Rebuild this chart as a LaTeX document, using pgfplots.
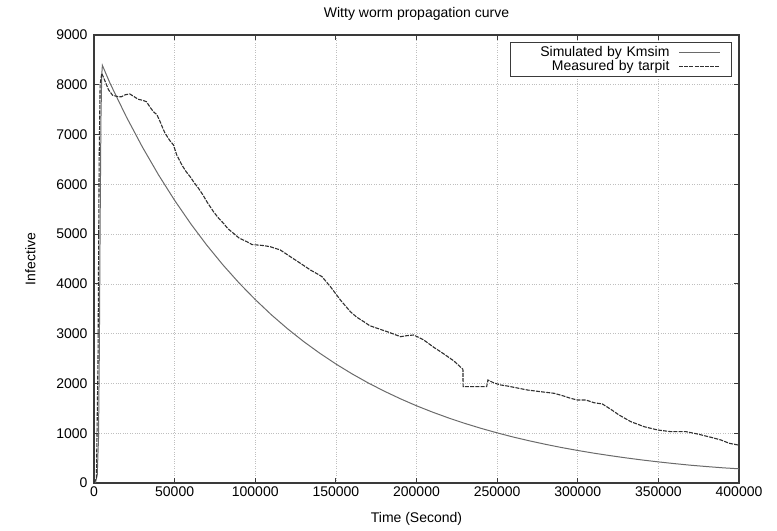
\documentclass[border=0pt]{standalone}
\usepackage{pgfplots}
\pgfplotsset{compat=1.18}
\usepackage{fontspec}
\setmainfont{Liberation Sans}
\definecolor{simc}{HTML}{6A6A6A}
\definecolor{meac}{HTML}{303030}
\definecolor{axc}{HTML}{3A3A3A}
\begin{document}
\begin{tikzpicture}[font=\fontsize{14bp}{16bp}\selectfont]
\begin{axis}[
  name=ax,
  scale only axis,
  width=645bp, height=448bp,
  xmin=0, xmax=400000, ymin=0, ymax=9000,
  xtick={0,50000,...,400000},
  ytick={0,1000,...,9000},
  scaled x ticks=false,
  /pgf/number format/.cd, fixed, 1000 sep={}, assume math mode=true, /pgfplots/.cd,
  tick align=inside,
  major tick length=5bp,
  tick style={axc, line width=0.9bp},
  axis line style={axc, line width=1.4bp},
  grid=major,
  major grid style={gray!50, dotted, line width=0.7bp},
  title={Witty worm propagation curve},
  title style={yshift=5bp},
  xlabel={Time (Second)},
  ylabel={Infective},
  xlabel style={yshift=-9bp},
  ylabel style={yshift=14bp},
  yticklabel style={xshift=-3bp},
  legend plot pos=right,
  legend image code/.code={\path (0bp,0bp) (61bp,0bp); \draw[#1] (9bp,0bp) -- (50bp,0bp);},
  legend style={at={(1,1)}, anchor=north east, xshift=-7bp, yshift=-7bp,
    draw=axc, line width=0.9bp, fill=white, inner xsep=0bp, inner ysep=2bp, row sep=-1.5bp,
    font=\fontsize{14bp}{16bp}\selectfont},
  legend cell align=right,
  legend style={nodes={text width=159bp, align=right, inner xsep=0bp}},
]
\addplot[simc, line width=1bp] coordinates {
(0,0) (1000,20) (2000,150) (2800,900) (3300,2600) (3800,5200) (4300,7300) (4800,8200) (5200,8390)
(10000,8026) (20000,7360) (30000,6750) (40000,6191) (50000,5678) (60000,5208)
(70000,4776) (80000,4380) (90000,4017) (100000,3685) (110000,3379) (120000,3099)
(130000,2842) (140000,2607) (150000,2391) (160000,2193) (170000,2011) (180000,1845)
(190000,1692) (200000,1551) (210000,1423) (220000,1305) (230000,1197) (240000,1098)
(250000,1007) (260000,923) (270000,847) (280000,777) (290000,712) (300000,653)
(310000,599) (320000,550) (330000,504) (340000,462) (350000,424) (360000,389)
(370000,357) (380000,330) (390000,305) (400000,285)
};
\addlegendentry{Simulated by Kmsim}
\addplot[meac, line width=1.1bp, dash pattern=on 4bp off 1.2bp] coordinates {
(0,0) (1500,100) (2500,2500) (3200,6500) (3800,8000) (4800,8230) (6500,8100)
(9000,7900) (11500,7790) (15000,7760) (17000,7760) (19500,7800) (22200,7815)
(25000,7760) (27300,7709) (30000,7690) (32500,7660) (35000,7540) (36800,7460)
(39000,7400) (41000,7259) (43000,7100) (44100,7025) (47000,6880) (49300,6790)
(51300,6590) (54500,6389) (57000,6260) (59600,6154) (62000,6040) (64800,5920)
(67500,5790) (70000,5651) (74100,5450) (77000,5330) (80300,5217) (83000,5110)
(86500,5016) (90000,4920) (94800,4848) (98000,4790) (101000,4782) (105000,4770)
(109300,4747) (115500,4681) (121700,4547) (128000,4414) (134200,4279) (138000,4210)
(141400,4145) (146600,3944) (152800,3676) (159000,3441) (163000,3330) (167300,3241)
(171000,3160) (175600,3108) (181800,3040) (186000,2990) (190100,2939) (194000,2960)
(198300,2973) (204500,2873) (210700,2726) (217000,2592) (223200,2451) (228800,2284)
(228900,1935) (243500,1935) (244300,2069) (248000,2010) (252200,1969) (256000,1950)
(260400,1922) (268800,1868) (277000,1834) (285300,1802) (290000,1760) (295600,1701)
(299800,1667) (305000,1667) (310100,1613) (315300,1587) (320500,1480) (325600,1366)
(332900,1232) (341200,1131) (349500,1065) (357800,1031) (367100,1031) (374300,984)
(382600,918) (388800,864) (394000,797) (400000,760)
};
\addlegendentry{Measured by tarpit}
\end{axis}
\pgfresetboundingbox
\path[use as bounding box] ([xshift=-94bp,yshift=-48bp]ax.south west) rectangle ([xshift=38bp,yshift=35bp]ax.north east);
\end{tikzpicture}
\end{document}
